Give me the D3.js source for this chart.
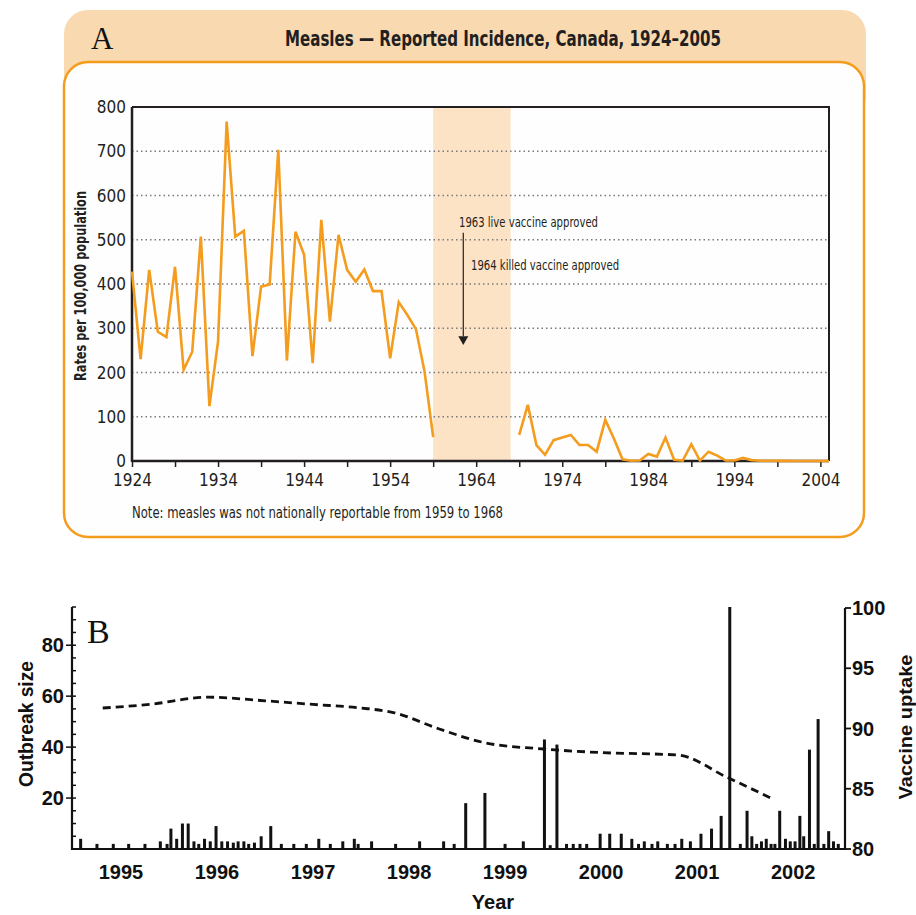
<!DOCTYPE html>
<html>
<head>
<meta charset="utf-8">
<title>Measles incidence and outbreaks</title>
<script src="https://d3js.org/d3.v7.min.js"></script>
<style>
  body { margin: 0; background: #fff; }
  .narrow { font-family: "Liberation Sans Narrow", "DejaVu Sans Condensed", "Roboto", sans-serif; fill: #231f20; }
  .helv { font-family: "Liberation Sans", Arial, sans-serif; font-weight: bold; fill: #111; }
  .serif { font-family: "Liberation Serif", "DejaVu Serif", serif; fill: #111; }
</style>
</head>
<body>
<div id="chart"></div>
<script>
// ---- panel A: reported incidence per 100,000, Canada
const yearsEarly = d3.range(1924, 1960);
const ratesEarly = [428, 230, 432, 292, 280, 439, 206, 247, 507, 124,
                    270, 767, 507, 520, 237, 394, 399, 703, 227, 518,
                    466, 221, 545, 315, 511, 432, 405, 433, 384, 384,
                    232, 359, 330, 298, 202, 54];
const yearsLate = d3.range(1969, 2006);
const ratesLate = [59, 127, 36, 14, 47, 53, 59, 36, 36, 21,
                   93, 51, 4, 0.5, 1, 16, 10, 53, 3, 1,
                   38, 1, 21, 12, 1, 1, 7, 2, 0.5, 0.4,
                   0.3, 0.3, 0.1, 0.1, 0.1, 0.1, 0.1];
const rateTicks = [0, 100, 200, 300, 400, 500, 600, 700, 800];
const yearLabels = [1924, 1934, 1944, 1954, 1964, 1974, 1984, 1994, 2004];
const notReportable = [1959, 1968];

// ---- panel B: outbreak sizes and vaccine uptake
const outbreakTime = [1994.58, 1994.75, 1994.92, 1995.08, 1995.25, 1995.41, 1995.48, 1995.52, 1995.58, 1995.64,
  1995.70, 1995.76, 1995.81, 1995.87, 1995.93, 1995.99, 1996.05, 1996.11, 1996.17, 1996.22,
  1996.28, 1996.33, 1996.39, 1996.46, 1996.56, 1996.67, 1996.80, 1996.93, 1997.06, 1997.18,
  1997.31, 1997.43, 1997.47, 1997.61, 1997.86, 1998.11, 1998.36, 1998.47, 1998.59, 1998.79,
  1999.00, 1999.19, 1999.41, 1999.47, 1999.54, 1999.64, 1999.71, 1999.78, 1999.85, 1999.99,
  2000.09, 2000.21, 2000.32, 2000.39, 2000.45, 2000.53, 2000.59, 2000.69, 2000.77, 2000.84,
  2000.93, 2001.04, 2001.15, 2001.25, 2001.34, 2001.45, 2001.52, 2001.57, 2001.62, 2001.67,
  2001.72, 2001.77, 2001.81, 2001.86, 2001.92, 2001.97, 2002.02, 2002.07, 2002.11, 2002.17,
  2002.22, 2002.26, 2002.32, 2002.37, 2002.42, 2002.47];
const outbreakSize = [4, 2, 2, 2, 2, 3, 2, 8, 4, 10,
  10, 3, 2, 4, 3, 9, 3, 3, 2.5, 3,
  3, 2, 2.5, 5, 9, 2, 2, 2, 4, 2,
  3, 4, 2, 3, 2, 3, 3, 2, 18, 22,
  2, 3, 43, 1.5, 41, 2, 2, 2, 2, 6,
  6, 6, 4, 2, 3, 2, 3, 2, 2, 4,
  3, 6, 8, 13, 95, 2, 15, 5, 2, 3,
  4, 2, 2, 15, 4, 3, 3, 13, 5, 39,
  2, 51, 2, 7, 3, 2];
const uptakeTime = [1994.81, 1995.3, 1995.9, 1996.5, 1997.0, 1997.5, 1997.85, 1998.3, 1998.8, 1999.4, 2000.0, 2000.8, 2001.3, 2001.8];
const uptakeValue = [91.7, 92.0, 92.6, 92.3, 92.0, 91.7, 91.3, 90.0, 88.8, 88.3, 88.0, 87.8, 86.0, 84.1];
const sizeTicks = [20, 40, 60, 80];
const uptakeTicks = [80, 85, 90, 95, 100];
const bYears = [1995, 1996, 1997, 1998, 1999, 2000, 2001, 2002];

const svg = d3.select('#chart').append('svg')
    .attr('width', 916).attr('height', 915);

// ================= Panel A =================
const orange = '#f49c1e';
svg.append('rect').attr('x', 64).attr('y', 10).attr('width', 802).attr('height', 110)
    .attr('rx', 24).attr('fill', '#f8d9b0');
svg.append('rect').attr('x', 64).attr('y', 62).attr('width', 800).attr('height', 475)
    .attr('rx', 24).attr('fill', '#fefefe').attr('stroke', orange).attr('stroke-width', 2.5);

svg.append('text').attr('class', 'serif').attr('x', 91).attr('y', 49)
    .attr('font-size', 31).text('A');
svg.append('text').attr('class', 'narrow').attr('x', 503).attr('y', 46)
    .attr('text-anchor', 'middle').attr('font-size', 22).attr('font-weight', 'bold')
    .attr('textLength', 436).attr('lengthAdjust', 'spacingAndGlyphs')
    .text('Measles \u2014 Reported Incidence, Canada, 1924\u20132005');

const xA = d3.scaleLinear().domain([1924, 2005]).range([132, 829]);
const yA = d3.scaleLinear().domain([0, 800]).range([461, 107]);

// non-reportable band
svg.append('rect')
    .attr('x', xA(notReportable[0])).attr('y', yA(800))
    .attr('width', xA(notReportable[1]) - xA(notReportable[0]))
    .attr('height', yA(0) - yA(800))
    .attr('fill', '#fde3c6');

// dotted gridlines
svg.append('g').selectAll('line').data(rateTicks.filter(d => d > 0 && d < 800)).join('line')
    .attr('x1', xA(1924)).attr('x2', xA(2005))
    .attr('y1', d => yA(d)).attr('y2', d => yA(d))
    .attr('stroke', '#7a7a7a').attr('stroke-width', 1.5).attr('stroke-dasharray', '1.5,3');

// frame top/right
svg.append('path')
    .attr('d', `M${xA(1924)},${yA(800)}H${xA(2005)}V${yA(0)}`)
    .attr('fill', 'none').attr('stroke', '#231f20').attr('stroke-width', 2);

// y labels
svg.append('g').selectAll('text').data(rateTicks).join('text')
    .attr('class', 'narrow').attr('x', 126).attr('y', d => yA(d)).attr('dy', '0.36em')
    .attr('text-anchor', 'end').attr('font-size', 17).text(d => d);

// x axis
const xAxisA = d3.axisBottom(xA).tickValues(d3.range(1924, 2005, 5)).tickSize(6)
    .tickFormat(d => yearLabels.includes(d) ? d : '');
const gxA = svg.append('g').attr('transform', `translate(0,${yA(0)})`).call(xAxisA);
gxA.select('.domain').attr('stroke', '#231f20').attr('stroke-width', 2.5)
    .attr('d', `M${xA(1924)},0H${xA(2005)}`);
gxA.selectAll('.tick line').attr('stroke', '#231f20').attr('stroke-width', 1.5);
gxA.selectAll('.tick text').attr('class', 'narrow').attr('font-size', 17).attr('dy', '0.95em');

// y axis line
svg.append('line').attr('x1', xA(1924)).attr('x2', xA(1924)).attr('y1', yA(800)).attr('y2', yA(0) + 1)
    .attr('stroke', '#231f20').attr('stroke-width', 2.5);

// incidence lines
const lineA = d3.line().x(d => xA(d[0])).y(d => yA(d[1]));
[[yearsEarly, ratesEarly], [yearsLate, ratesLate]].forEach(([ys, rs]) => {
    svg.append('path').datum(ys.map((y, i) => [y, rs[i]]))
        .attr('d', lineA).attr('fill', 'none')
        .attr('stroke', orange).attr('stroke-width', 2.6).attr('stroke-linejoin', 'miter');
});

// annotation
svg.append('text').attr('class', 'narrow').attr('x', xA(1962)).attr('y', yA(529))
    .attr('font-size', 14).attr('textLength', 139).attr('lengthAdjust', 'spacingAndGlyphs')
    .text('1963 live vaccine approved');
svg.append('text').attr('class', 'narrow').attr('x', xA(1963.4)).attr('y', yA(432))
    .attr('font-size', 14).attr('textLength', 148).attr('lengthAdjust', 'spacingAndGlyphs')
    .text('1964 killed vaccine approved');
const ax = xA(1962.5);
svg.append('line').attr('x1', ax).attr('x2', ax).attr('y1', yA(516)).attr('y2', yA(282))
    .attr('stroke', '#231f20').attr('stroke-width', 1.2);
svg.append('path')
    .attr('d', `M${ax - 5},${yA(282)}L${ax + 5},${yA(282)}L${ax},${yA(262)}Z`)
    .attr('fill', '#231f20');

svg.append('text').attr('class', 'narrow').attr('x', 132).attr('y', 518)
    .attr('font-size', 15).attr('textLength', 371).attr('lengthAdjust', 'spacingAndGlyphs')
    .text('Note: measles was not nationally reportable from 1959 to 1968');

svg.append('text').attr('class', 'narrow')
    .attr('transform', `translate(86,${yA(400) + 2}) rotate(-90)`)
    .attr('text-anchor', 'middle').attr('font-size', 15).attr('font-weight', 'bold')
    .attr('textLength', 190).attr('lengthAdjust', 'spacingAndGlyphs')
    .text('Rates per 100,000 population');

// ================= Panel B =================
const xB = d3.scaleLinear().domain([1994.49, 2002.54]).range([72, 845]);
const yB = d3.scaleLinear().domain([0, 95]).range([849, 607]);
const yU = d3.scaleLinear().domain([80, 100]).range([849, 608]);

svg.append('text').attr('class', 'serif').attr('x', 87).attr('y', 643)
    .attr('font-size', 34).text('B');

// bars
svg.append('g').selectAll('rect').data(outbreakTime).join('rect')
    .attr('x', d => xB(d) - 1.5).attr('width', 3)
    .attr('y', (d, i) => yB(outbreakSize[i]))
    .attr('height', (d, i) => yB(0) - yB(outbreakSize[i]))
    .attr('fill', '#111');

// vaccine uptake dashed line
svg.append('path').datum(uptakeTime.map((t, i) => [t, uptakeValue[i]]))
    .attr('d', d3.line().x(d => xB(d[0])).y(d => yU(d[1])).curve(d3.curveMonotoneX))
    .attr('fill', 'none').attr('stroke', '#111').attr('stroke-width', 2.8)
    .attr('stroke-dasharray', '8,5');

// axes
svg.append('path').attr('d', `M72,${yB(95)}V${yB(0)}H845V${yU(100)}`)
    .attr('fill', 'none').attr('stroke', '#111').attr('stroke-width', 2.2);

svg.append('g').selectAll('line').data(d3.range(5, 96, 5)).join('line')
    .attr('x1', d => sizeTicks.includes(d) ? 66 : 72).attr('x2', 76)
    .attr('y1', d => yB(d)).attr('y2', d => yB(d))
    .attr('stroke', '#111').attr('stroke-width', 1.5);
svg.append('g').selectAll('text').data(sizeTicks).join('text')
    .attr('class', 'helv').attr('x', 64).attr('y', d => yB(d)).attr('dy', '0.36em')
    .attr('text-anchor', 'end').attr('font-size', 20).text(d => d);

svg.append('g').selectAll('line').data(uptakeTicks).join('line')
    .attr('x1', 845).attr('x2', 851)
    .attr('y1', d => yU(d)).attr('y2', d => yU(d))
    .attr('stroke', '#111').attr('stroke-width', 1.8);
svg.append('g').selectAll('text').data(uptakeTicks).join('text')
    .attr('class', 'helv').attr('x', 852).attr('y', d => yU(d)).attr('dy', '0.36em')
    .attr('font-size', 20).attr('font-weight', 'normal').text(d => d);

svg.append('g').selectAll('text').data(bYears).join('text')
    .attr('class', 'helv').attr('x', d => xB(d)).attr('y', 879)
    .attr('text-anchor', 'middle').attr('font-size', 20).text(d => d);

svg.append('text').attr('class', 'helv').attr('x', 493).attr('y', 909)
    .attr('text-anchor', 'middle').attr('font-size', 20).text('Year');
svg.append('text').attr('class', 'helv')
    .attr('transform', 'translate(33,724) rotate(-90)')
    .attr('text-anchor', 'middle').attr('font-size', 20)
    .attr('textLength', 126).attr('lengthAdjust', 'spacingAndGlyphs')
    .text('Outbreak size');
svg.append('text').attr('class', 'helv')
    .attr('transform', 'translate(912,727) rotate(-90)')
    .attr('text-anchor', 'middle').attr('font-size', 19).attr('font-weight', 'normal')
    .attr('textLength', 145).attr('lengthAdjust', 'spacingAndGlyphs')
    .text('Vaccine uptake');
</script>
</body>
</html>
